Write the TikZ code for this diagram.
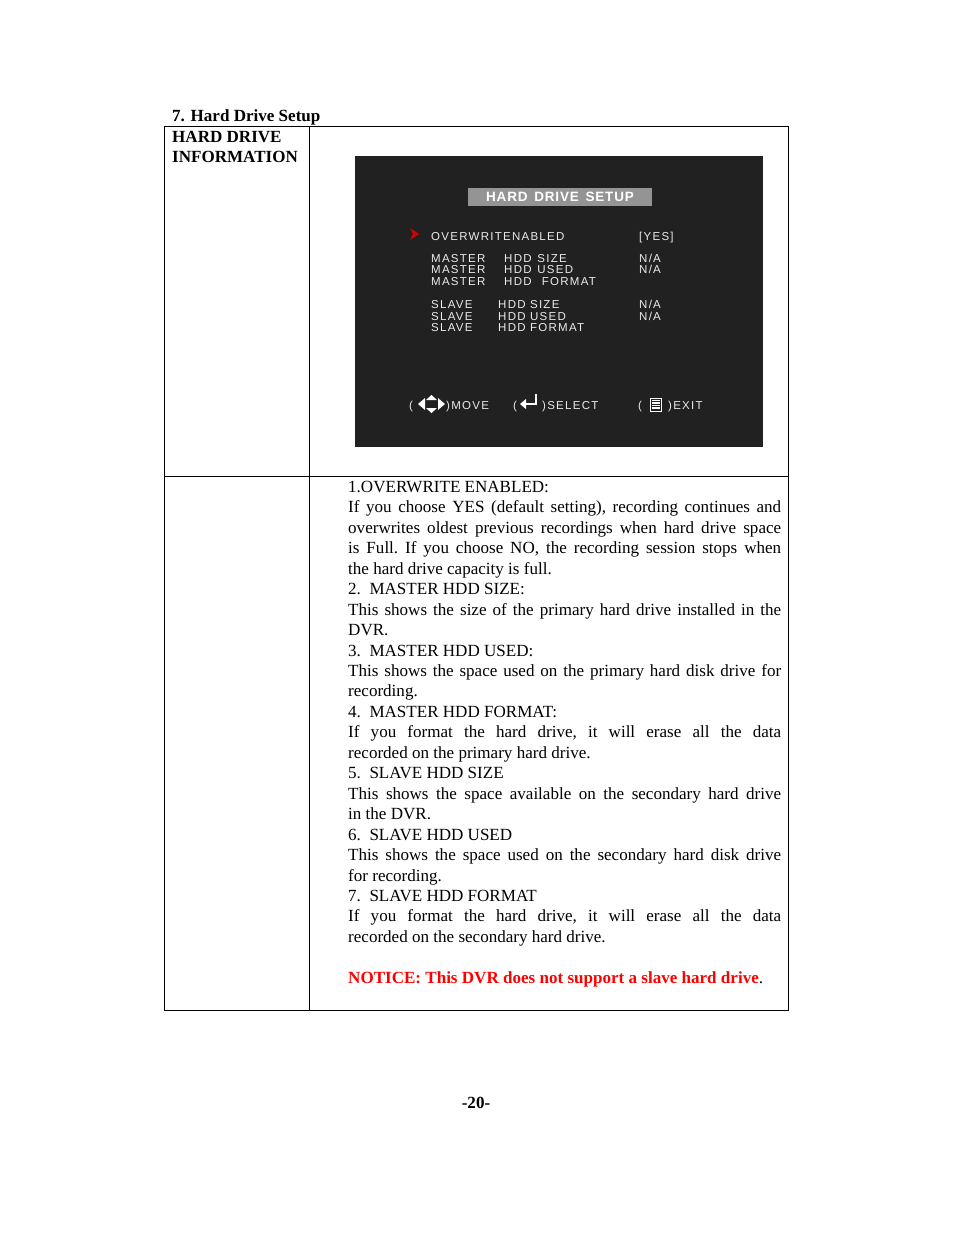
\documentclass[tikz,border=0pt]{standalone}
\usepackage{fontspec}
\setmainfont{Liberation Serif}
\newfontfamily\osd[LetterSpace=11]{Liberation Sans}
\newfontfamily\osdh[LetterSpace=6]{Liberation Sans}
\begin{document}
\begin{tikzpicture}[x=1pt,y=-1pt,
  osdt/.style={anchor=base west,text=white!92!black,font=\osd\fontsize{11.5}{12}\selectfont,inner sep=0pt},
  body/.style={anchor=north west,inner sep=0pt,text width=433pt,align=justify,font=\fontsize{17.05}{20.45}\selectfont}]
\useasboundingbox[fill=white] (0,0) rectangle (954,1235);
\node[anchor=base west,inner sep=0pt,font=\bfseries\fontsize{17.05}{18}\selectfont] (title) at (172,121) {7. Hard Drive Setup};
\draw[line width=0.8pt] (164,126) rectangle (788,1010);
\draw[line width=0.8pt] (309,126) -- (309,1010);
\draw[line width=0.8pt] (164,476) -- (788,476);
\node[anchor=north west,inner sep=0pt,align=left,font=\bfseries\fontsize{17.05}{20}\selectfont] (lab) at (172,131) {HARD DRIVE\\INFORMATION};
% screen
\fill[black!87] (355,156) rectangle (763,447);
\node[fill=black!42,minimum width=184pt,minimum height=18pt,inner sep=0pt,text=white,font=\osdh\bfseries\fontsize{13.5}{14}\selectfont] (hdr) at (560,197) {HARD\enspace DRIVE\enspace SETUP};
\fill[red!85!black] (410,228) -- (419,234) -- (410,240) -- (413,234) -- cycle;
\node[osdt] (o1) at (431,240) {OVERWRITENABLED};
\node[osdt] (o1v) at (639,240) {[YES]};
\node[osdt] (m1) at (431,262) {MASTER};\node[osdt] at (504,262) {HDD\enspace SIZE};\node[osdt] at (639,262) {N/A};
\node[osdt] (m2) at (431,273) {MASTER};\node[osdt] at (504,273) {HDD\enspace USED};\node[osdt] at (639,273) {N/A};
\node[osdt] (m3) at (431,285) {MASTER};\node[osdt] at (504,285) {HDD\enspace\ FORMAT};
\node[osdt] (s1) at (431,308) {SLAVE};\node[osdt] at (498,308) {HDD SIZE};\node[osdt] at (639,308) {N/A};
\node[osdt] (s2) at (431,320) {SLAVE};\node[osdt] at (498,320) {HDD USED};\node[osdt] at (639,320) {N/A};
\node[osdt] (s3) at (431,331) {SLAVE};\node[osdt] at (498,331) {HDD FORMAT};
% bottom bar
\node[osdt] (b1) at (409,409) {(};
\fill[white] (418,404) -- (425,398) -- (425,410) -- cycle;
\fill[white] (445,404) -- (438,398) -- (438,410) -- cycle;
\fill[white] (426,400) -- (431.5,395) -- (437,400) -- cycle;
\fill[white] (426,408) -- (431.5,413) -- (437,408) -- cycle;
\node[osdt] (move) at (446,409) {)MOVE};
\node[osdt] (b2) at (513,409) {(};
\draw[white,line width=1.8pt] (536,394) -- (536,404) -- (524,404);
\fill[white] (520,404) -- (526,399) -- (526,409) -- cycle;
\node[osdt] (sel) at (542,409) {)SELECT};
\node[osdt] (b3) at (638,409) {(};
\draw[white,line width=1pt] (650,398) rectangle (661,411);
\foreach \yy in {400.5,403,405.5,408}{\draw[white,line width=1.2pt] (651.5,\yy) -- (659.5,\yy);}
\node[osdt] (ex) at (668,409) {)EXIT};
% body
\node[body] (txt) at (348,481) {\frenchspacing\hyphenpenalty=10000\relax\exhyphenpenalty=10000\relax
1.OVERWRITE ENABLED:\\
If you choose YES (default setting), recording continues and overwrites oldest previous recordings when hard drive space\linebreak is Full. If you choose NO, the recording session stops when\linebreak the hard drive capacity is full.\\
2.\enspace MASTER HDD SIZE:\\
This shows the size of the primary hard drive installed in the DVR.\\
3.\enspace MASTER HDD USED:\\
This shows the space used on the primary hard disk drive for recording.\\
4.\enspace MASTER HDD FORMAT:\\
If you format the hard drive, it will erase all the data\linebreak recorded on the primary hard drive.\\
5.\enspace SLAVE HDD SIZE\\
This shows the space available on the secondary hard drive\linebreak in the DVR.\\
6.\enspace SLAVE HDD USED\\
This shows the space used on the secondary hard disk drive\linebreak for recording.\\
7.\enspace SLAVE HDD FORMAT\\
If you format the hard drive, it will erase all the data\linebreak recorded on the secondary hard drive.\\[20.45pt]
{\color{red}\bfseries NOTICE: This DVR does not support a slave hard drive}.};
\node[anchor=base,inner sep=0pt,font=\bfseries\fontsize{17.05}{18}\selectfont] (pg) at (476,1108) {-20-};
\end{tikzpicture}
\end{document}
